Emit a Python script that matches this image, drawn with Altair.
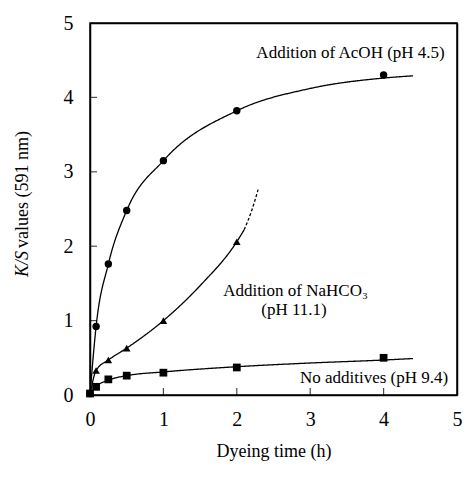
import altair as alt
import pandas as pd

FONT = "Liberation Serif"
W, H = 367, 372

# measured points
time_pts = [0, 0.083, 0.25, 0.5, 1, 2, 4]
acoh_pts = [0.02, 0.92, 1.76, 2.48, 3.15, 3.82, 4.30]
nahco3_time = [0, 0.083, 0.25, 0.5, 1, 2]
nahco3_pts = [0.02, 0.33, 0.47, 0.63, 1.00, 2.06]
none_pts = [0.02, 0.11, 0.21, 0.26, 0.30, 0.37, 0.50]

# fitted curves
acoh_cx = [0, 0.083, 0.25, 0.5, 1, 2, 3, 4, 4.4]
acoh_cy = [0, 0.92, 1.76, 2.48, 3.15, 3.82, 4.12, 4.26, 4.29]
nahco3_cx = [0, 0.083, 0.25, 0.5, 1, 1.5, 2, 2.1]
nahco3_cy = [0, 0.33, 0.47, 0.63, 1.0, 1.47, 2.06, 2.22]
nahco3_dx = [2.1, 2.2, 2.29]
nahco3_dy = [2.22, 2.47, 2.76]
none_cx = [0, 0.083, 0.25, 0.5, 1, 2, 3, 4, 4.4]
none_cy = [0, 0.11, 0.2, 0.26, 0.31, 0.38, 0.43, 0.47, 0.49]

labels_c = ["Addition of AcOH (pH 4.5)", "Addition of NaHCO₃", "(pH 11.1)"]
labels_cx = [3.55, 2.8, 2.78]
labels_cy = [4.6, 1.40, 1.14]
label_r = "No additives (pH 9.4)"
label_rx, label_ry = 4.88, 0.23

tick_vals = [0, 1, 2, 3, 4, 5]
inner_ticks = [1, 2, 3, 4]
frame_lo = [0]
frame_hi = [5]

pts = pd.DataFrame(
    [{"t": t, "v": v, "s": "acoh"} for t, v in zip(time_pts, acoh_pts)]
    + [{"t": t, "v": v, "s": "nahco3"} for t, v in zip(nahco3_time, nahco3_pts)]
    + [{"t": t, "v": v, "s": "none"} for t, v in zip(time_pts, none_pts)]
)
curves = pd.DataFrame(
    [{"t": t, "v": v, "c": "acoh", "style": "solid"} for t, v in zip(acoh_cx, acoh_cy)]
    + [{"t": t, "v": v, "c": "nahco3", "style": "solid"} for t, v in zip(nahco3_cx, nahco3_cy)]
    + [{"t": t, "v": v, "c": "nahco3d", "style": "dashed"} for t, v in zip(nahco3_dx, nahco3_dy)]
    + [{"t": t, "v": v, "c": "none", "style": "solid"} for t, v in zip(none_cx, none_cy)]
)
txt = pd.DataFrame({"t": labels_cx, "v": labels_cy, "label": labels_c})
txt_r = pd.DataFrame({"t": [label_rx], "v": [label_ry], "label": [label_r]})
frame_df = pd.DataFrame({"lo": frame_lo, "hi": frame_hi})
ticks_df = pd.DataFrame({"k": inner_ticks})

xs = alt.Scale(domain=[0, 5], nice=False)
ys = alt.Scale(domain=[0, 5], nice=False)
xax = alt.Axis(values=tick_vals, format="d", title="Dyeing time (h)", ticks=False,
               domain=True, grid=False, labelFlush=False, labelPadding=14, titlePadding=13)
yax = alt.Axis(values=tick_vals, format="d", title=None, ticks=False,
               domain=True, grid=False, labelFlush=False, labelPadding=17)
xtop = alt.Axis(orient="top", labels=False, ticks=False, domain=True, grid=False, title=None)
yright = alt.Axis(orient="right", labels=False, ticks=False, domain=True, grid=False, title=None)

lines = alt.Chart(curves).mark_line(interpolate="monotone", color="black", strokeWidth=1.3).encode(
    x=alt.X("t:Q", scale=xs, axis=xax),
    y=alt.Y("v:Q", scale=ys, axis=yax),
    detail="c:N",
    strokeDash=alt.StrokeDash("style:N", scale=alt.Scale(domain=["solid", "dashed"], range=[[1, 0], [3, 2]]), legend=None),
)
frame = alt.Chart(frame_df).mark_point(opacity=0).encode(
    x=alt.X("lo:Q", scale=xs, axis=xtop),
    y=alt.Y("hi:Q", scale=ys, axis=yright),
)
xticks = alt.Chart(ticks_df).mark_tick(orient="vertical", size=7, thickness=1.2, color="black").encode(
    x=alt.X("k:Q", scale=xs, axis=None), y=alt.value(H - 3.5))
yticks = alt.Chart(ticks_df).mark_tick(orient="horizontal", size=7, thickness=1.2, color="black").encode(
    y=alt.Y("k:Q", scale=ys, axis=None), x=alt.value(3.5))
points = alt.Chart(pts).mark_point(filled=True, color="black", opacity=1).encode(
    x=alt.X("t:Q", scale=xs, axis=None), y=alt.Y("v:Q", scale=ys, axis=None),
    shape=alt.Shape("s:N", scale=alt.Scale(domain=["acoh", "nahco3", "none"],
                                           range=["circle", "triangle-up", "square"]), legend=None),
    size=alt.Size("s:N", scale=alt.Scale(domain=["acoh", "nahco3", "none"], range=[55, 60, 45]), legend=None),
)
ann = alt.Chart(txt).mark_text(font=FONT, fontSize=17, align="center", baseline="middle", color="black").encode(
    x=alt.X("t:Q", scale=xs, axis=None), y=alt.Y("v:Q", scale=ys, axis=None), text="label:N")
ann_r = alt.Chart(txt_r).mark_text(font=FONT, fontSize=17, align="right", baseline="middle", color="black").encode(
    x=alt.X("t:Q", scale=xs, axis=None), y=alt.Y("v:Q", scale=ys, axis=None), text="label:N")

ytitle_a = alt.Chart(pd.DataFrame({"a": ["K/S"]})).mark_text(
    font=FONT, fontSize=18, fontStyle="italic", angle=270, align="left", baseline="middle", color="black"
).encode(x=alt.value(-67), y=alt.value(254), text="a:N")
ytitle_b = alt.Chart(pd.DataFrame({"a": [" values (591 nm)"]})).mark_text(
    font=FONT, fontSize=18, angle=270, align="left", baseline="middle", color="black"
).encode(x=alt.value(-67), y=alt.value(225), text="a:N")

chart = alt.layer(lines, frame, xticks, yticks, points, ann, ann_r, ytitle_a, ytitle_b).resolve_axis(
    x="independent", y="independent"
).properties(
    width=W, height=H,
    padding={"left": 82, "top": 15, "right": 6, "bottom": 68},
    autosize="none",
    background="white",
).configure_view(stroke="black", strokeWidth=1.5).configure_axis(
    labelFont=FONT, labelFontSize=20, labelColor="black",
    domainColor="black", domainWidth=1.5,
    titleFont=FONT, titleFontSize=18, titleFontWeight="normal", titleColor="black",
)

chart.save("out.html", embed_options={"renderer": "svg", "actions": False})
